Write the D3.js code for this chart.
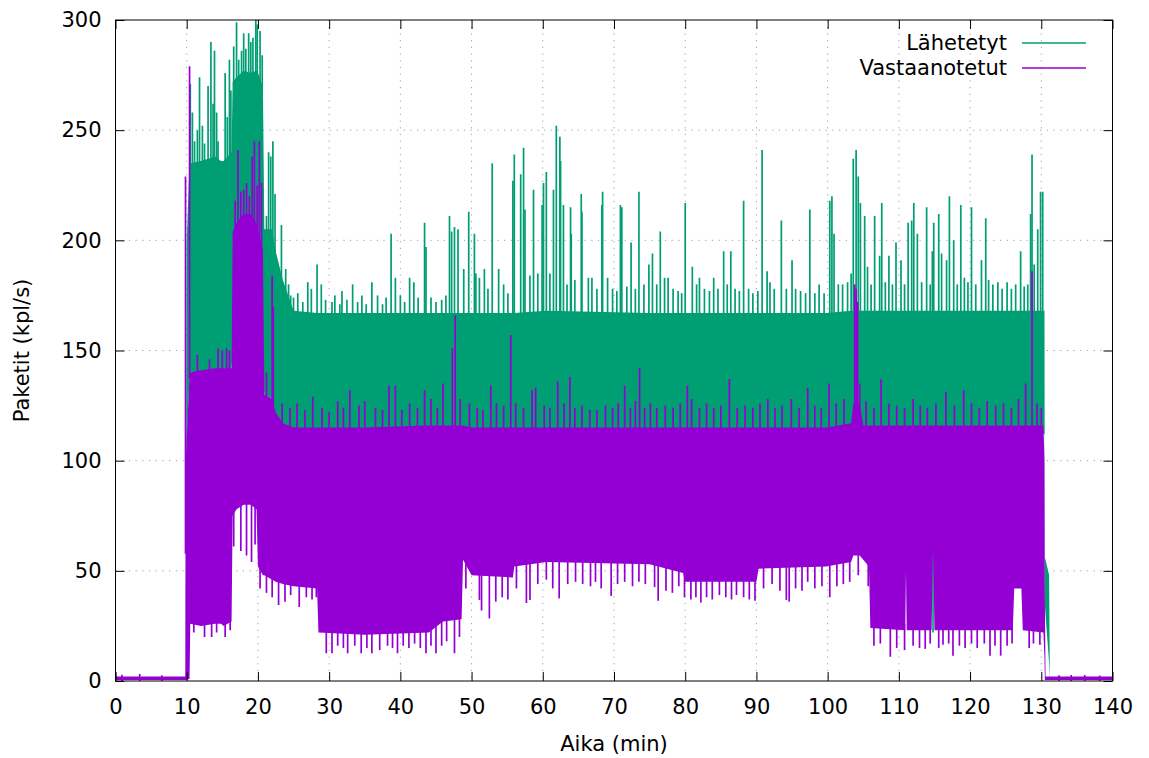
<!DOCTYPE html>
<html><head><meta charset="utf-8">
<script src="https://cdn.jsdelivr.net/npm/d3@7"></script>
<style>body{margin:0;background:#fff;} svg{display:block;} text{font-family:"DejaVu Sans",sans-serif;}</style>
</head><body>
<svg id="chart" width="1149" height="758"></svg>
<script>
// ---------- data ----------
const xTicks = [0,10,20,30,40,50,60,70,80,90,100,110,120,130,140];
const yTicks = [0,50,100,150,200,250,300];
const seriesNames = ["Lähetetyt","Vastaanotetut"];
const xLabel = "Aika (min)";
const yLabel = "Paketit (kpl/s)";

// envelope of the dense band (time in minutes)
const tCore   = [0,0.15,9.8,9.85,10.0,10.4,10.5,12,14,14.8,15.2,16.3,16.45,17,18,19,19.8,20.0,20.7,20.9,22,22.5,23.5,25,28.3,28.5,35,44,46,48.6,48.8,50,55.8,56,60.5,75,79.7,80,90,90.3,99.8,103.3,103.6,104.5,105,105.8,106,110.9,111.0,111.1,114.6,114.8,115,126,126.2,127.2,127.4,130.3,130.45,130.5,130.6,131.1,131.2,140];
const sentTop = [1.5,1.5,1.5,1.5,200,235,235,236,238,236,236,240,272,274,277,276,277,276,270,205,205,195,182,168,167,167,167,167,167,167,167,167,167,167,168,167,167,167,167,167,167,168,168,168,168,168,168,168,168,168,168,168,168,168,168,168,168,168,168,56,55,48,1.5,1.5];
const sentBot = [0.5,0.5,0.5,0.5,105,140,140,140,140,140,140,142,150,150,150,150,150,150,140,130,128,120,115,112,112,112,112,112,112,112,112,112,112,112,112,112,112,112,112,112,112,112,112,112,112,112,112,112,112,112,112,112,112,112,112,112,112,112,112,35,30,8,0.5,0.5];
const recvTop = [6,2,2,100,110,140,140,141,142,142,142,142,204,208,212,212,208,204,196,130,128,122,117,115,115,115,115,116,116,116,116,115,115,115,115,115,115,115,115,115,115,117,126,126,116,116,116,116,116,116,116,116,116,116,116,116,116,116,100,40,2,2,2,2];
const recvBot = [0.5,0.5,0.5,0.5,0.5,1,26,25,26,26,25,27,75,78,80,80,78,52,48,48,46,45,44,43,42,22,21,22,27,28,55,48,47,52,54,53,49,45,45,51,52,54,57,57,55,52,24,23,50,23,23,60,23,23,42,42,23,22,10,0.5,0.5,0.5,0.5,0.5];

// individual peaks [minute, value]
const sentPeaks = [[10.5,271],[10.8,258],[11.1,245],[11.5,250],[11.8,274],[12.2,252],[12.5,244],[13.0,270],[13.4,290],[13.7,262],[13.9,286],[14.2,258],[14.4,245],[15.4,276],[15.7,256],[16.0,282],[16.2,268],[16.6,288],[17.0,299],[17.3,282],[17.7,286],[18.0,294],[18.3,287],[18.7,294],[19.0,290],[19.3,292],[19.7,300],[19.9,298],[20.3,295],[20.6,284],
[21.2,211],[21.5,240],[21.8,238],[22.1,245],[22.4,221],[22.7,189],[23.3,207],[23.9,187],[24.3,180],[24.6,175],[25.0,174],[25.6,176],[26.3,172],[27.0,181],[27.5,178],[28.3,189],[28.9,180],[29.5,173],[30.4,172],[30.8,175],[31.5,171],[31.8,177],[32.5,173],[33.3,180],[34.0,172],[34.6,175],[35.2,171],[36.0,181],[36.8,175],[37.5,171],[38.0,174],[38.7,203],[39.3,183],[40.0,175],[40.6,172],[41.3,183],[41.9,181],[42.5,174],[43.4,208],[43.6,197],[44.3,174],[45.0,172],[45.8,173],[46.4,175],[46.9,211],[47.2,204],[47.6,206],[48.1,205],[48.9,187],[49.6,213],[50.4,203],[50.6,185],[51.1,183],[51.8,187],[52.3,178],[52.9,235],[53.8,187],[54.5,180],[55.1,176],[55.8,227],[56.0,239],[56.9,230],[57.3,242],[57.5,214],[58.2,184],[58.7,223],[59.3,185],[59.9,216],[60.1,226],[60.5,231],[61.0,185],[61.5,223],[61.9,252],[62.4,247],[62.5,236],[62.9,216],[63.4,180],[63.9,215],[64.0,203],[64.5,182],[65.4,221],[65.5,213],[66.4,183],[66.9,183],[67.6,178],[68.3,216],[68.4,222],[69.1,183],[69.8,178],[70.4,177],[70.9,216],[71.1,215],[71.8,179],[72.4,199],[73.0,178],[73.5,222],[74.2,180],[74.9,189],[75.4,194],[76.0,180],[76.5,204],[77.1,183],[77.6,183],[78.3,178],[79.0,177],[79.5,176],[80.0,217],[81.0,188],[81.6,180],[82.0,183],[82.7,178],[83.4,177],[84.0,183],[84.6,178],[85.4,195],[85.9,180],[86.4,195],[87.0,178],[87.6,177],[88.2,218],[88.9,178],[89.5,176],[90.2,177],[90.8,241],[91.5,186],[91.9,181],[92.5,178],[93.5,209],[94.2,178],[95.0,191],[95.5,178],[96.2,177],[96.9,176],[97.5,214],[98.2,176],[98.8,180],[99.5,176],[100.3,218],[100.6,220],[100.9,203],[101.5,180],[102.1,180],[102.8,181],[103.3,185],[103.6,237],[104.0,241],[104.3,229],[104.6,217],[105.2,211],[105.6,188],[106.1,180],[106.6,211],[107.3,193],[107.6,217],[108.1,181],[108.6,193],[109.1,180],[109.6,199],[110.3,191],[110.8,180],[111.3,208],[111.8,209],[112.1,217],[112.6,203],[113.2,181],[113.9,215],[114.4,180],[114.7,195],[114.9,208],[115.6,212],[116.0,194],[116.7,191],[117.1,220],[117.7,200],[118.2,180],[118.7,216],[119.2,183],[119.7,181],[120.2,215],[120.8,180],[121.6,191],[122.2,210],[122.6,182],[123.2,180],[123.9,181],[124.5,178],[125.2,181],[125.8,178],[126.4,180],[127.1,195],[127.6,179],[128.1,180],[128.5,212],[128.7,239],[129.0,189],[129.5,205],[129.9,222],[130.2,222]];
const sentDips = [[114.8,22]];
const recvPeaks = [[0.9,2.8],[3.4,3.2],[6.5,2.6],[9.83,229],[10.4,279],[11.5,148],[13.2,146],[14.4,151],[15.0,150],[15.6,151],[16.0,150],[16.8,218],[17.2,241],[17.6,222],[18.0,223],[18.4,226],[18.8,220],[19.2,238],[19.5,245],[19.9,225],[20.2,245],[20.5,226],[21.2,140],[22.0,184],[22.15,170],[23.4,126],[24.5,124],[25.5,126],[26.6,123],[27.7,129],[29.0,124],[30.0,122],[31.2,127],[32.0,124],[32.9,132],[34.2,125],[35.0,127],[36.5,124],[37.5,123],[38.4,134],[39.3,134],[40.2,123],[41.3,126],[42.4,124],[43.4,132],[44.3,128],[45.2,124],[46.0,135],[47.3,151],[47.7,166],[48.4,128],[49.7,126],[50.8,124],[51.6,123],[52.7,134],[53.5,126],[54.5,125],[55.5,157],[56.2,126],[57.3,124],[58.5,132],[59.0,133],[60.2,125],[61.0,124],[62.1,136],[63.0,126],[63.8,138],[64.5,124],[65.5,125],[66.6,123],[67.6,123],[68.8,125],[69.8,124],[70.6,126],[71.5,134],[72.3,124],[73.0,127],[73.6,142],[74.3,124],[75.1,126],[76.0,124],[77.2,125],[78.3,124],[79.3,126],[80.3,134],[80.9,128],[82.0,124],[83.0,126],[84.0,124],[85.0,125],[86.2,137],[87.3,124],[88.4,125],[89.5,124],[90.5,126],[91.6,128],[92.6,124],[93.6,125],[94.9,128],[96.0,124],[97.2,133],[98.2,125],[99.1,124],[100.2,135],[101.2,126],[102.3,128],[103.8,180],[104.0,178],[104.2,172],[104.5,135],[105.4,127],[106.5,124],[107.5,137],[108.6,126],[109.7,125],[110.8,124],[112.0,128],[113.0,125],[114.0,124],[115.2,126],[116.6,131],[117.8,125],[119.1,132],[120.2,126],[121.3,124],[122.4,127],[123.6,125],[124.7,126],[125.8,124],[126.8,128],[127.8,135],[128.7,186],[129.4,126],[130.0,124],[132.5,2.6],[134.2,2.7],[136.1,2.7],[138.2,2.5]];
const recvDips = [[11.0,22],[12.5,20],[13.5,20],[14.2,22],[15.4,20],[16.1,23],[16.6,61],[17.6,59],[18.4,57],[19.1,54],[19.6,62],[20.3,42],[21.2,40],[22.0,38],[22.9,34.5],[23.8,36],[24.6,39],[25.8,33.6],[26.8,38],[27.6,37],[28.2,38],[29.6,12.6],[30.4,12.6],[31.2,16],[32.0,15],[32.6,12.6],[33.6,16],[34.5,12.6],[35.3,15],[36.0,12.6],[37.1,14],[38.2,16],[38.9,15],[39.6,12.6],[40.4,16],[41.2,15],[42.0,17],[42.8,15],[43.6,12.6],[44.3,16],[45.0,12.6],[45.8,16],[46.5,18],[47.6,12.6],[48.3,20],[49.2,42],[51.1,36.8],[51.4,32],[52.5,28.4],[53.4,36],[54.3,38],[55.1,37],[56.3,42],[57.7,35.4],[58.2,36.8],[59.3,44],[60.5,46],[61.4,42],[62.3,37.5],[63.5,44],[64.6,45],[65.6,44],[66.7,43],[67.4,45],[68.2,42],[69.6,38.6],[70.5,44],[71.5,45],[72.6,43],[73.5,45],[74.4,44],[75.7,42.6],[76.2,36.4],[77.3,41],[78.2,40],[79.1,43],[79.9,38],[80.8,37],[81.5,38],[82.2,35.6],[83.0,38],[83.8,37],[84.8,39],[85.7,38],[86.5,37],[87.2,39],[88.2,38],[89.0,37],[89.8,36.4],[91.0,42],[92.2,44],[93.3,41],[94.2,36.8],[94.6,36],[95.5,42],[96.4,41],[97.2,45],[98.2,42],[99.2,43],[100.3,38],[101.3,43],[102.2,44],[103.1,45],[104.3,48],[105.7,43],[106.5,16],[107.4,17],[108.8,11],[109.7,15],[110.8,14],[112.0,16],[112.9,15],[113.7,14.6],[114.4,17],[115.6,15],[116.2,16.5],[117.0,17],[117.6,11.5],[118.5,16],[119.3,15],[120.2,17],[121.0,15],[122.0,17],[122.8,11.5],[123.5,16],[124.3,11.5],[125.2,16],[125.9,17],[128.3,15],[128.9,17],[129.8,16.5]];

// ---------- drawing ----------
const colSent = "#009e73", colRecv = "#9400d3";
const svg = d3.select("#chart");
const L = 115.5, R = 1112.5, T = 20, B = 681;
const x = d3.scaleLinear().domain([0,140]).range([L,R]);
const y = d3.scaleLinear().domain([0,300]).range([B,T]);

svg.append("defs").append("clipPath").attr("id","clip")
  .append("rect").attr("x",L).attr("y",T).attr("width",R-L).attr("height",B-T);

// grid
const grid = svg.append("g").attr("stroke","#a0a0a0").attr("stroke-width",1).attr("stroke-dasharray","1.2,5.5");
grid.selectAll(null).data(xTicks.slice(1,-1)).join("line")
  .attr("x1",d=>x(d)).attr("x2",d=>x(d)).attr("y1",T).attr("y2",B);
grid.selectAll(null).data(yTicks.slice(1,-1)).join("line")
  .attr("x1",L).attr("x2",R).attr("y1",d=>y(d)).attr("y2",d=>y(d));

const plot = svg.append("g").attr("clip-path","url(#clip)");

function band(top, bot, col){
  const idx = d3.range(tCore.length);
  plot.append("path").datum(idx)
    .attr("d", d3.area().x(i=>x(tCore[i])).y0(i=>y(bot[i])).y1(i=>y(top[i])))
    .attr("fill", col);
}
function spikes(list, base, off, col){
  const b = d3.scaleLinear().domain(tCore).range(base);
  plot.append("g").selectAll(null).data(list).join("line")
    .attr("x1",d=>x(d[0])).attr("x2",d=>x(d[0]))
    .attr("y1",d=>y(b(d[0])+off)).attr("y2",d=>y(d[1]))
    .attr("stroke",col).attr("stroke-width",1.7);
}
band(sentTop, sentBot, colSent);
spikes(sentPeaks, sentTop, -3, colSent);
spikes(sentDips, sentBot, 3, colSent);
band(recvTop, recvBot, colRecv);
spikes(recvPeaks, recvTop, -3, colRecv);
spikes(recvDips, recvBot, 3, colRecv);

// axes
const fs = "21px";
const ax = [
  svg.append("g").attr("transform",`translate(0,${B})`).call(d3.axisBottom(x).tickValues(xTicks).tickSizeInner(-9).tickSizeOuter(0).tickPadding(18)),
  svg.append("g").attr("transform",`translate(0,${T})`).call(d3.axisTop(x).tickValues(xTicks).tickSizeInner(-9).tickSizeOuter(0).tickFormat("")),
  svg.append("g").attr("transform",`translate(${L},0)`).call(d3.axisLeft(y).tickValues(yTicks).tickSizeInner(-9).tickSizeOuter(0).tickPadding(14)),
  svg.append("g").attr("transform",`translate(${R},0)`).call(d3.axisRight(y).tickValues(yTicks).tickSizeInner(-9).tickSizeOuter(0).tickFormat(""))
];
ax.forEach(g=>{
  g.select(".domain").remove();
  g.selectAll(".tick line").attr("stroke","#000").attr("stroke-width",1);
  g.selectAll(".tick text").attr("fill","#000").style("font-size",fs).style("font-family","DejaVu Sans");
});
svg.append("rect").attr("x",L).attr("y",T).attr("width",R-L).attr("height",B-T)
  .attr("fill","none").attr("stroke","#000").attr("stroke-width",1);

// axis labels
svg.append("text").attr("x",(L+R)/2).attr("y",751).attr("text-anchor","middle")
  .style("font-size",fs).text(xLabel);
svg.append("text").attr("transform",`translate(29,${(T+B)/2}) rotate(-90)`).attr("text-anchor","middle")
  .style("font-size",fs).text(yLabel);

// legend
const leg = svg.append("g");
[colSent,colRecv].forEach((c,i)=>{
  const yy = 43 + i*25;
  leg.append("text").attr("x",1007).attr("y",yy).attr("dy","0.35em").attr("text-anchor","end")
    .style("font-size",fs).text(seriesNames[i]);
  leg.append("line").attr("x1",1022).attr("x2",1086).attr("y1",yy).attr("y2",yy)
    .attr("stroke",c).attr("stroke-width",1.5);
});
</script>
</body></html>
